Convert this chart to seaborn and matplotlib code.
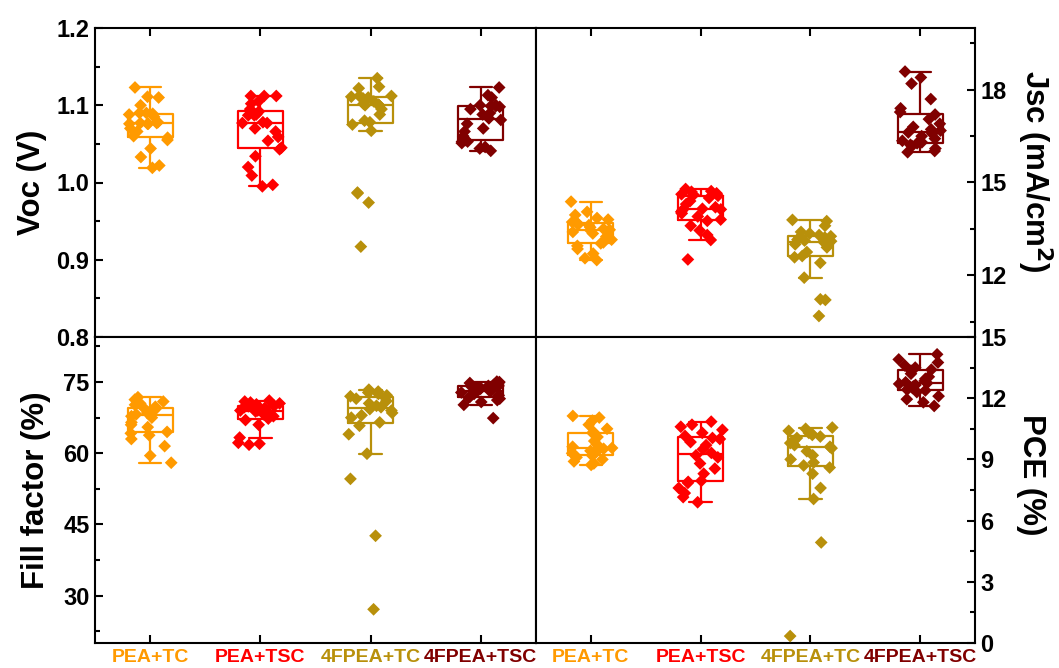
import numpy as np
import pandas as pd
import seaborn as sns
import matplotlib.pyplot as plt
from matplotlib.ticker import MultipleLocator

# Groups and colours
groups = ['PEA+TC', 'PEA+TSC', '4FPEA+TC', '4FPEA+TSC']
colors = ['#FF9A00', '#FF0000', '#B8900B', '#800000']

# Voc (V)
voc_pea_tc = [1.019, 1.022, 1.033, 1.044, 1.055, 1.058, 1.060, 1.066, 1.070, 1.076, 1.076, 1.076,
              1.077, 1.077, 1.078, 1.085, 1.088, 1.089, 1.090, 1.090, 1.100, 1.110, 1.111, 1.123]
voc_pea_tsc = [0.995, 0.997, 1.009, 1.020, 1.034, 1.043, 1.045, 1.054, 1.059, 1.066, 1.070, 1.077,
               1.077, 1.078, 1.087, 1.087, 1.088, 1.092, 1.095, 1.102, 1.105, 1.112, 1.112, 1.112]
voc_4f_tc = [0.917, 0.974, 0.986, 0.987, 1.067, 1.075, 1.078, 1.080, 1.088, 1.095, 1.100, 1.100,
             1.100, 1.101, 1.102, 1.105, 1.109, 1.110, 1.111, 1.112, 1.112, 1.122, 1.124, 1.135]
voc_4f_tsc = [1.041, 1.044, 1.046, 1.051, 1.053, 1.053, 1.055, 1.060, 1.066, 1.070, 1.076, 1.081,
              1.083, 1.088, 1.090, 1.095, 1.098, 1.099, 1.099, 1.100, 1.100, 1.110, 1.113, 1.123]

# Jsc (mA/cm2)
jsc_pea_tc = [12.49, 12.55, 12.70, 12.85, 12.95, 13.03, 13.06, 13.15, 13.25, 13.35, 13.40, 13.45,
              13.47, 13.50, 13.55, 13.62, 13.65, 13.69, 13.72, 13.80, 13.85, 13.95, 14.05, 14.38]
jsc_pea_tsc = [12.51, 13.14, 13.30, 13.45, 13.60, 13.76, 13.80, 13.90, 14.00, 14.05, 14.10, 14.13,
               14.15, 14.20, 14.30, 14.40, 14.50, 14.57, 14.60, 14.62, 14.65, 14.70, 14.72, 14.79]
jsc_4f_tc = [10.68, 11.20, 11.22, 11.92, 12.40, 12.58, 12.62, 12.75, 12.90, 13.00, 13.05, 13.08,
             13.10, 13.12, 13.15, 13.20, 13.22, 13.26, 13.30, 13.35, 13.40, 13.60, 13.75, 13.79]
jsc_4f_tsc = [15.98, 16.02, 16.10, 16.18, 16.22, 16.27, 16.30, 16.35, 16.42, 16.50, 16.58, 16.62,
              16.68, 16.72, 16.80, 16.90, 17.05, 17.20, 17.28, 17.40, 17.70, 18.20, 18.40, 18.59]

# Fill factor (%)
ff_pea_tc = [58.0, 59.5, 61.5, 63.0, 63.8, 64.2, 64.5, 65.5, 66.0, 66.5, 67.5, 67.8,
             68.2, 68.5, 68.8, 69.0, 69.3, 69.4, 69.8, 70.2, 70.5, 70.9, 71.3, 71.8]
ff_pea_tsc = [61.8, 62.0, 62.2, 63.3, 66.0, 67.0, 67.3, 67.8, 68.2, 68.5, 68.8, 69.0,
              69.0, 69.3, 69.5, 69.7, 69.9, 70.0, 70.1, 70.3, 70.5, 70.7, 70.9, 71.1]
ff_4f_tc = [27.1, 42.6, 54.6, 59.9, 64.0, 65.8, 66.5, 67.5, 68.0, 68.5, 69.0, 69.3,
            69.7, 70.0, 70.5, 71.0, 71.5, 71.7, 72.0, 72.2, 72.5, 72.8, 73.0, 73.4]
ff_4f_tsc = [67.4, 70.2, 70.8, 71.2, 71.5, 71.7, 71.9, 72.2, 72.5, 72.8, 73.0, 73.1,
             73.3, 73.5, 73.7, 73.9, 74.0, 74.2, 74.2, 74.4, 74.6, 74.8, 75.0, 75.1]

# PCE (%)
pce_pea_tc = [8.73, 8.80, 8.90, 9.00, 9.10, 9.18, 9.22, 9.30, 9.35, 9.42, 9.48, 9.52,
              9.56, 9.62, 9.75, 9.90, 10.10, 10.28, 10.35, 10.50, 10.70, 10.90, 11.05, 11.13]
pce_pea_tsc = [6.90, 7.15, 7.35, 7.60, 7.85, 7.90, 7.95, 8.30, 8.55, 8.80, 9.10, 9.20,
               9.32, 9.50, 9.70, 9.85, 10.00, 10.05, 10.15, 10.30, 10.45, 10.60, 10.70, 10.85]
pce_4f_tc = [0.34, 4.93, 7.06, 7.60, 8.30, 8.60, 8.70, 8.85, 9.00, 9.20, 9.40, 9.55,
             9.62, 9.70, 9.80, 9.90, 10.05, 10.12, 10.20, 10.25, 10.30, 10.40, 10.50, 10.56]
pce_4f_tsc = [11.62, 11.80, 11.95, 12.10, 12.30, 12.38, 12.42, 12.50, 12.58, 12.65, 12.70, 12.74,
              12.78, 12.85, 12.95, 13.05, 13.20, 13.35, 13.40, 13.50, 13.60, 13.75, 13.90, 14.15]


def make_df(*series):
    rows = []
    for g, vals in zip(groups, series):
        rows += [(g, v) for v in vals]
    return pd.DataFrame(rows, columns=['group', 'value'])


df_voc = make_df(voc_pea_tc, voc_pea_tsc, voc_4f_tc, voc_4f_tsc)
df_jsc = make_df(jsc_pea_tc, jsc_pea_tsc, jsc_4f_tc, jsc_4f_tsc)
df_ff = make_df(ff_pea_tc, ff_pea_tsc, ff_4f_tc, ff_4f_tsc)
df_pce = make_df(pce_pea_tc, pce_pea_tsc, pce_4f_tc, pce_4f_tsc)

sns.set_style('ticks')
plt.rcParams['font.family'] = ['Liberation Sans', 'DejaVu Sans']
plt.rcParams['font.weight'] = 'bold'
for key in ['text.color', 'axes.labelcolor', 'xtick.color', 'ytick.color']:
    plt.rcParams[key] = 'black'
np.random.seed(3)

fig = plt.figure(figsize=(10.59, 6.68), dpi=100)
W, H = 1059, 668
x0, xm, x1 = 95, 536, 975
y0, ym, y1 = 28, 337, 643
ax_voc = fig.add_axes([x0 / W, 1 - ym / H, (xm - x0) / W, (ym - y0) / H])
ax_jsc = fig.add_axes([xm / W, 1 - ym / H, (x1 - xm) / W, (ym - y0) / H])
ax_ff = fig.add_axes([x0 / W, 1 - y1 / H, (xm - x0) / W, (y1 - ym) / H])
ax_pce = fig.add_axes([xm / W, 1 - y1 / H, (x1 - xm) / W, (y1 - ym) / H])

# axis, data, ylim, major, minor, label, side, x-tick side, label position (axes fraction)
panels = [
    (ax_voc, df_voc, (0.8, 1.2), 0.1, 0.05, 'Voc (V)', 'left', 'top', (-0.143, 0.5)),
    (ax_jsc, df_jsc, (10, 20), 3, 1.5, 'Jsc (mA/cm$\\mathbf{^2}$)', 'right', 'top', (1.135, 0.535)),
    (ax_ff, df_ff, (20, 84.5), 15, 7.5, 'Fill factor (%)', 'left', 'bottom', (-0.134, 0.5)),
    (ax_pce, df_pce, (0, 15), 3, 1.5, 'PCE (%)', 'right', 'bottom', (1.127, 0.55)),
]

for ax, d, ylim, major, minor, label, side, xside, lpos in panels:
    sns.boxplot(data=d, x='group', y='value', hue='group', palette=colors, order=groups,
                fill=False, width=0.41, showfliers=False, linewidth=1.6, legend=False, ax=ax)
    sns.stripplot(data=d, x='group', y='value', hue='group', palette=colors, order=groups,
                  marker='D', size=6.5, jitter=0.2, legend=False, ax=ax, zorder=3)
    ax.set_ylim(*ylim)
    ax.set_xlim(-0.5, 3.5)
    ax.yaxis.set_major_locator(MultipleLocator(major))
    ax.yaxis.set_minor_locator(MultipleLocator(minor))
    ax.set_xlabel('')
    for s in ax.spines.values():
        s.set_visible(True)
        s.set_linewidth(1.5)
        s.set_color('black')

    ax.tick_params(axis='both', which='both', direction='in', width=1.5, labelsize=17,
                   left=False, right=False, top=False, bottom=False,
                   labelleft=False, labelright=False, labeltop=False, labelbottom=False)
    ax.tick_params(axis='both', which='major', length=6)
    ax.tick_params(axis='both', which='minor', length=3.5)

    if side == 'left':
        ax.tick_params(axis='y', which='both', left=True, labelleft=True, pad=4)
        ax.set_ylabel(label, fontsize=22.5, fontweight='bold', va='center', ha='center')
    else:
        ax.tick_params(axis='y', which='both', right=True, labelright=True, pad=4)
        ax.yaxis.set_label_position('right')
        ax.set_ylabel(label, fontsize=22.5, fontweight='bold', rotation=270,
                      va='center', ha='center')
    ax.yaxis.set_label_coords(*lpos)

    if xside == 'top':
        ax.tick_params(axis='x', which='major', top=True)
    else:
        ax.tick_params(axis='x', which='major', bottom=True, labelbottom=True, pad=4)
        for t, c in zip(ax.get_xticklabels(), colors):
            t.set_color(c)
            t.set_fontsize(14)
            t.set_fontweight('bold')

    if ylim == (0.8, 1.2):
        ax.set_yticks([0.8, 0.9, 1.0, 1.1, 1.2])
        ax.set_yticklabels(['0.8', '0.9', '1.0', '1.1', '1.2'])
    if ylim == (10, 20):
        ax.set_yticks([12, 15, 18])
    if ylim == (20, 84.5):
        ax.set_yticks([30, 45, 60, 75])

fig.savefig('out.png', dpi=100)
